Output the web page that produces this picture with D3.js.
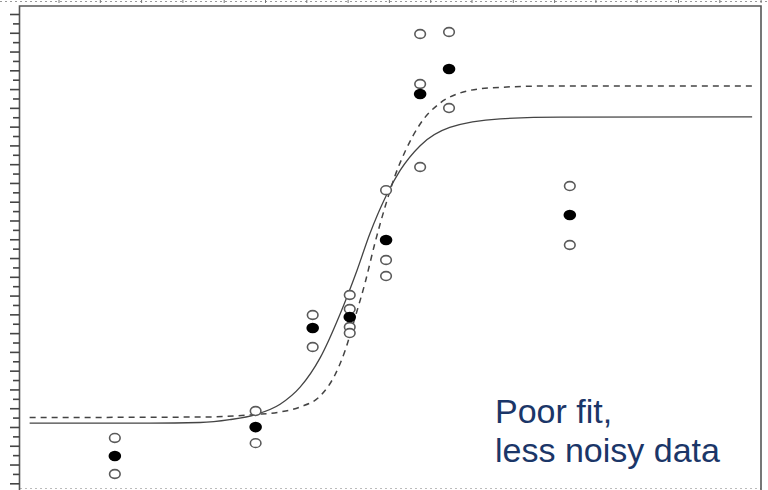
<!DOCTYPE html>
<html>
<head>
<meta charset="utf-8">
<script src="https://cdn.jsdelivr.net/npm/d3@7"></script>
<style>
  html, body { margin: 0; padding: 0; background: #fff; }
  svg { display: block; }
</style>
</head>
<body>
<svg id="chart" width="768" height="490"></svg>
<script>
// Dose positions (log units) of each replicate group
const doses = [1.28, 3.18, 3.95, 4.45, 4.94, 5.40, 5.79, 7.42];
// Group means (filled markers)
const means = [2.91, 5.99, 16.55, 17.72, 25.92, 41.48, 44.14, 28.58];
// Individual replicates (open markers), one list per dose
const replicates = [
  [4.83, 0.99],
  [7.70, 4.28],
  [17.93, 14.52],
  [20.06, 18.57, 16.65, 16.01],
  [31.23, 23.79, 22.08],
  [47.87, 42.54, 33.70],
  [48.08, 39.98],
  [31.67, 25.39]
];
// Fitted response curve (solid)
const fitX = [0.13, 1.75, 2.43, 2.83, 3.18, 3.51, 3.78, 4.05, 4.32, 4.55, 4.72, 4.94, 5.13, 5.40, 5.80, 6.48, 7.29, 9.88];
const fitY = [6.42, 6.42, 6.48, 6.78, 7.32, 8.42, 10.24, 13.36, 18.04, 22.73, 26.56, 30.61, 33.33, 35.97, 37.91, 38.83, 39.01, 39.03];
// Reference response curve (dashed)
const refX = [0.13, 2.43, 3.18, 3.51, 3.78, 4.05, 4.25, 4.39, 4.52, 4.66, 4.79, 4.93, 5.06, 5.20, 5.40, 5.67, 5.94, 6.34, 7.15, 9.88];
const refY = [7.01, 7.06, 7.33, 7.60, 8.13, 9.30, 11.54, 14.20, 17.61, 21.45, 25.60, 29.54, 32.74, 35.40, 38.28, 40.52, 41.59, 42.12, 42.33, 42.33];
// Y tick values: one per unit, longer on even values
const yTicksMajor = d3.range(0, 51, 2);
const yTicksMinor = d3.range(1, 50, 2);
const caption = ["Poor fit,", "less noisy data"];

const svg = d3.select("#chart");
const frameLeft = 19.5, frameRight = 761, frameTop = 6;

const x = d3.scaleLinear().domain([0, 10]).range([20, 761]);
const y = d3.scaleLinear().domain([0, 50]).range([483.3, 14]);

// faint dotted strip along the very top with small ticks
svg.append("line")
  .attr("x1", 0).attr("x2", 768).attr("y1", 1.5).attr("y2", 1.5)
  .attr("stroke", "#999").attr("stroke-width", 1).attr("stroke-dasharray", "2,3");
svg.append("g").selectAll("line")
  .data(d3.range(59, 768, 41.3))
  .join("line")
  .attr("x1", d => d).attr("x2", d => d)
  .attr("y1", 0).attr("y2", 3)
  .attr("stroke", "#777").attr("stroke-width", 1);

// faint dotted strip along the bottom
svg.append("line")
  .attr("x1", 20).attr("x2", 761).attr("y1", 488.5).attr("y2", 488.5)
  .attr("stroke", "#bbb").attr("stroke-width", 1).attr("stroke-dasharray", "2,3");

// plot frame
svg.append("path")
  .attr("d", `M${frameLeft},495 L${frameLeft},${frameTop} L${frameRight},${frameTop} L${frameRight},495`)
  .attr("fill", "none").attr("stroke", "#555").attr("stroke-width", 1.6);

// y axis ticks
const majorAxis = d3.axisLeft(y).tickValues(yTicksMajor).tickSize(9.5).tickFormat("");
const minorAxis = d3.axisLeft(y).tickValues(yTicksMinor).tickSize(6.5).tickFormat("");
[majorAxis, minorAxis].forEach(ax => {
  const g = svg.append("g").attr("transform", `translate(${frameLeft},0)`).call(ax);
  g.select(".domain").remove();
  g.selectAll(".tick line").attr("stroke", "#444").attr("stroke-width", 1.6);
});

// curves
const line = d3.line().x(d => x(d[0])).y(d => y(d[1])).curve(d3.curveMonotoneX);
svg.append("path")
  .attr("d", line(d3.zip(refX, refY)))
  .attr("fill", "none").attr("stroke", "#444").attr("stroke-width", 1.5)
  .attr("stroke-dasharray", "6,5");
svg.append("path")
  .attr("d", line(d3.zip(fitX, fitY)))
  .attr("fill", "none").attr("stroke", "#444").attr("stroke-width", 1.3);

// replicate markers
const openPts = replicates.flatMap((vals, i) => vals.map(v => [doses[i], v]));
svg.append("g").selectAll("ellipse")
  .data(openPts)
  .join("ellipse")
  .attr("cx", d => x(d[0])).attr("cy", d => y(d[1]))
  .attr("rx", 5.3).attr("ry", 4.4)
  .attr("fill", "#fff").attr("stroke", "#5a5a5a").attr("stroke-width", 1.6);

// mean markers
svg.append("g").selectAll("ellipse")
  .data(doses.map((d, i) => [d, means[i]]))
  .join("ellipse")
  .attr("cx", d => x(d[0])).attr("cy", d => y(d[1]))
  .attr("rx", 6.3).attr("ry", 5.3)
  .attr("fill", "#000");

// caption
svg.append("text")
  .attr("font-family", "Liberation Sans, Arial, sans-serif")
  .attr("font-size", 34)
  .attr("fill", "#1b3668")
  .selectAll("tspan")
  .data(caption)
  .join("tspan")
  .attr("x", 495)
  .attr("y", (d, i) => 423 + i * 38.5)
  .text(d => d);
</script>
</body>
</html>
